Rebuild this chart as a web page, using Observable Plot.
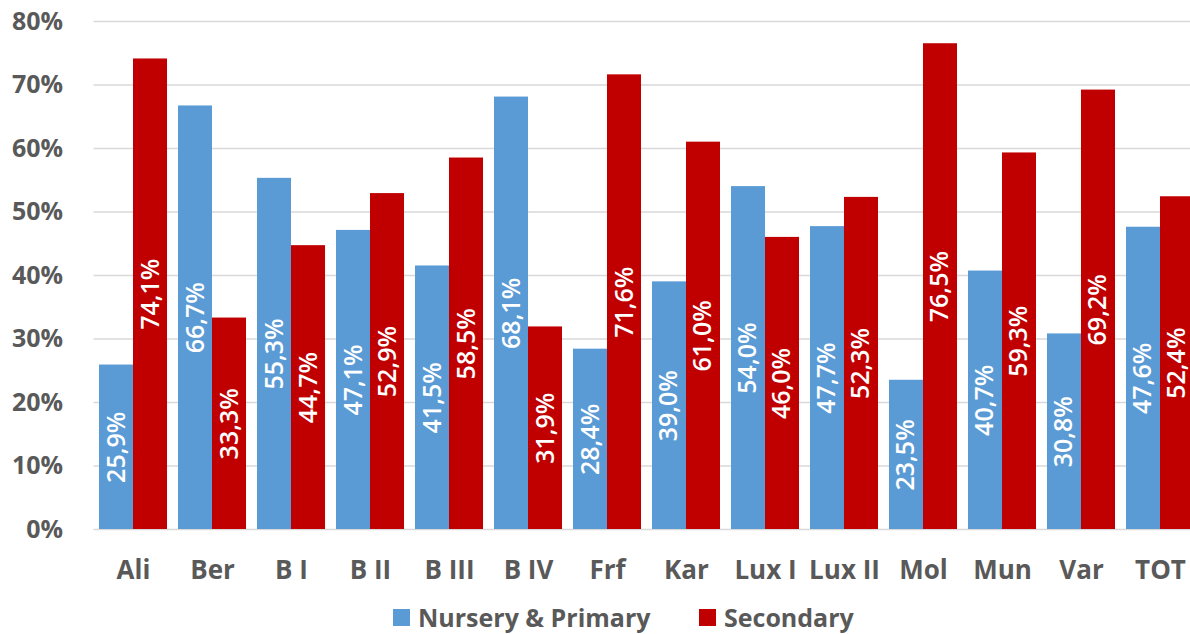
<!DOCTYPE html>
<html>
<head>
<meta charset="utf-8">
<script src="https://cdn.jsdelivr.net/npm/d3@7"></script>
<script src="https://cdn.jsdelivr.net/npm/@observablehq/plot@0.6"></script>
<style>
  html, body { margin: 0; padding: 0; background: #fff; overflow: hidden; }
  #chart { width: 1190px; }
  .legend { position: relative; height: 34px; font-family: "Open Sans", sans-serif; font-weight: 700; font-size: 25px; color: #595959; }
  .legend .item { position: absolute; top: 0; display: flex; align-items: center; height: 34px; }
  .legend .sw { width: 17px; height: 17px; margin-right: 8px; }
</style>
</head>
<body>
<div id="chart"></div>
<div class="legend">
  <div class="item" style="left:393px"><div class="sw" style="background:#5B9BD5"></div><span>Nursery &amp; Primary</span></div>
  <div class="item" style="left:699px"><div class="sw" style="background:#C00000"></div><span>Secondary</span></div>
</div>
<script>
const categories = ["Ali", "Ber", "B I", "B II", "B III", "B IV", "Frf", "Kar", "Lux I", "Lux II", "Mol", "Mun", "Var", "TOT"];
const nurseryPrimary = [25.9, 66.7, 55.3, 47.1, 41.5, 68.1, 28.4, 39.0, 54.0, 47.7, 23.5, 40.7, 30.8, 47.6];
const secondary = [74.1, 33.3, 44.7, 52.9, 58.5, 31.9, 71.6, 61.0, 46.0, 52.3, 76.5, 59.3, 69.2, 52.4];
const yTicks = [0, 10, 20, 30, 40, 50, 60, 70, 80];

const blue = "#5B9BD5", red = "#C00000", grey = "#595959";
const nData = categories.map((c, i) => ({cat: c, v: nurseryPrimary[i]}));
const sData = categories.map((c, i) => ({cat: c, v: secondary[i]}));
const fmt = v => v.toFixed(1).replace(".", ",") + "%";
const half = 34;

const chart = Plot.plot({
  width: 1190,
  height: 600,
  marginLeft: 93.5,
  marginRight: 0,
  marginTop: 21,
  marginBottom: 71,
  style: {fontFamily: "'Open Sans', sans-serif", background: "#fff"},
  x: {domain: categories, range: [93.5, 1199.5], paddingInner: 0.139, paddingOuter: 0.0696, round: false, label: null},
  y: {domain: [0, 80], label: null},
  marks: [
    Plot.ruleY(yTicks, {stroke: "#D9D9D9", strokeWidth: 1.5}),
    Plot.barY(nData, {x: "cat", y: "v", fill: blue, insetRight: half}),
    Plot.barY(sData, {x: "cat", y: "v", fill: red, insetLeft: half}),
    Plot.text(nData, {x: "cat", y: d => d.v / 2, text: d => fmt(d.v), rotate: -90, dx: -17, fill: "white", fontSize: 25, fontWeight: 600}),
    Plot.text(sData, {x: "cat", y: d => d.v / 2, text: d => fmt(d.v), rotate: -90, dx: 17, fill: "white", fontSize: 25, fontWeight: 600}),
    Plot.axisY({ticks: yTicks, tickFormat: d => d + "%", tickSize: 0, tickPadding: 31, fontSize: 25, fontWeight: 700, fill: grey}),
    Plot.axisX({tickSize: 0, tickPadding: 31, fontSize: 26, fontWeight: 700, fill: grey})
  ]
});
document.getElementById("chart").appendChild(chart);
</script>
</body>
</html>
